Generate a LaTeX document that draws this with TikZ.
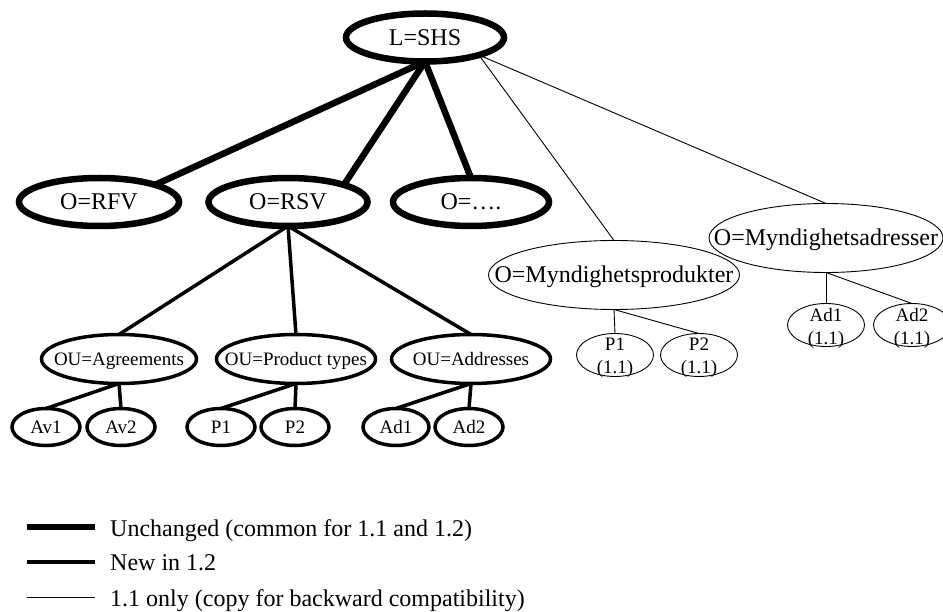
\documentclass[tikz,border=0pt]{standalone}
\usepackage{fontspec}
\setmainfont{Liberation Serif}
\usetikzlibrary{shapes.geometric}
\begin{document}
\begin{tikzpicture}[x=1pt,y=-1pt,
  ell/.style={ellipse, draw, inner sep=0pt, outer sep=0pt},
  heavy/.style={line width=6.5pt},
  medium/.style={line width=3.5pt},
  fine/.style={line width=0.9pt},
  tb/.style={font=\fontsize{24}{26}\selectfont, inner sep=0pt, text height=16pt, text depth=0pt},
  ts/.style={font=\fontsize{19}{22}\selectfont, inner sep=0pt, text height=12.6pt, text depth=0pt},
  tt/.style={font=\fontsize{19}{23}\selectfont, inner sep=0pt, align=center, yshift=-3pt},
  top/.style={ell, heavy, minimum width=#1, minimum height=48pt},
  ou/.style={ell, medium, minimum width=#1, minimum height=49pt},
  leaf/.style={ell, medium, minimum width=#1, minimum height=37pt},
  old/.style={ell, fine, minimum width=#1, minimum height=69pt},
  oldleaf/.style={ell, fine, minimum width=77pt, minimum height=43pt},
]
\useasboundingbox (0,0) rectangle (943,612);

% top level
\node[top=158pt, label={[name=Lt, tb]center:L=SHS}] (L) at (425,37.5) {};
\node[top=160pt, label={[name=RFVt, tb]center:O=RFV}] (RFV) at (99,202) {};
\node[top=159pt, label={[name=RSVt, tb]center:O=RSV}] (RSV) at (288,202) {};
\node[top=156pt, label={[name=O3t, tb]center:O=….}] (O3) at (471,202) {};

% OU level
\node[ou=155pt, label={[name=OUat, ts]center:OU=Agreements}] (OUa) at (119,359) {};
\node[ou=159pt, label={[name=OUpt, ts]center:OU=Product types}] (OUp) at (296,359) {};
\node[ou=159pt, label={[name=OUdt, ts]center:OU=Addresses}] (OUd) at (471,359) {};

% leaves
\node[leaf=68pt, label={[name=Av1t, ts]center:Av1}] (Av1) at (46,427) {};
\node[leaf=68pt, label={[name=Av2t, ts]center:Av2}] (Av2) at (121,427) {};
\node[leaf=68pt, label={[name=P1t, ts]center:P1}] (P1) at (221,427) {};
\node[leaf=68pt, label={[name=P2t, ts]center:P2}] (P2) at (295,427) {};
\node[leaf=66pt, label={[name=Ad1t, ts]center:Ad1}] (Ad1) at (396,427) {};
\node[leaf=68pt, label={[name=Ad2t, ts]center:Ad2}] (Ad2) at (469,427) {};

% 1.1 only branch
\node[old=251pt, label={[name=MPt, tb]center:O=Myndighetsprodukter}] (MP) at (614,275) {};
\node[old=234pt, label={[name=MAt, tb]center:O=Myndighetsadresser}] (MA) at (826,238) {};
\node[oldleaf, label={[name=oP1t, tt]center:P1\\(1.1)}] (oP1) at (615,355) {};
\node[oldleaf, label={[name=oP2t, tt]center:P2\\(1.1)}] (oP2) at (699,355) {};
\node[oldleaf, label={[name=oAd1t, tt]center:Ad1\\(1.1)}] (oAd1) at (826,325) {};
\node[oldleaf, label={[name=oAd2t, tt]center:Ad2\\(1.1)}] (oAd2) at (912,325) {};

% connectors
\draw[heavy] (L.south) -- (RFV.17);
\draw[heavy] (L.south) -- (RSV.17);
\draw[heavy] (L.south) -- (O3.north);

\draw[fine] (L.-18) -- (MP.north);
\draw[fine] (L.-18) -- (MA.north);

\draw[medium] (RSV.south) -- (OUa.north);
\draw[medium] (RSV.south) -- (OUp.north);
\draw[medium] (RSV.south) -- (OUd.north);

\draw[medium] (OUa.south) -- (Av1.north);
\draw[medium] (OUa.south) -- (Av2.north);
\draw[medium] (OUp.south) -- (P1.north);
\draw[medium] (OUp.south) -- (P2.north);
\draw[medium] (OUd.south) -- (Ad1.north);
\draw[medium] (OUd.south) -- (Ad2.north);

\draw[fine] (MP.south) -- (oP1.north);
\draw[fine] (MP.south) -- (oP2.north);
\draw[fine] (MA.south) -- (oAd1.north);
\draw[fine] (MA.south) -- (oAd2.north);

% legend
\coordinate (k1a) at (27,527); \coordinate (k1b) at (95,527);
\coordinate (k2a) at (27,562); \coordinate (k2b) at (95,562);
\coordinate (k3a) at (27,597); \coordinate (k3b) at (95,597);
\draw[line width=6pt] (k1a) -- (k1b);
\draw[line width=3.3pt] (k2a) -- (k2b);
\draw[fine] (k3a) -- (k3b);
\node[tb, anchor=base west] (leg1) at (110,536) {Unchanged (common for 1.1 and 1.2)};
\node[tb, anchor=base west] (leg2) at (110,570) {New in 1.2};
\node[tb, anchor=base west] (leg3) at (110,606) {1.1 only (copy for backward compatibility)};
\end{tikzpicture}
\end{document}
